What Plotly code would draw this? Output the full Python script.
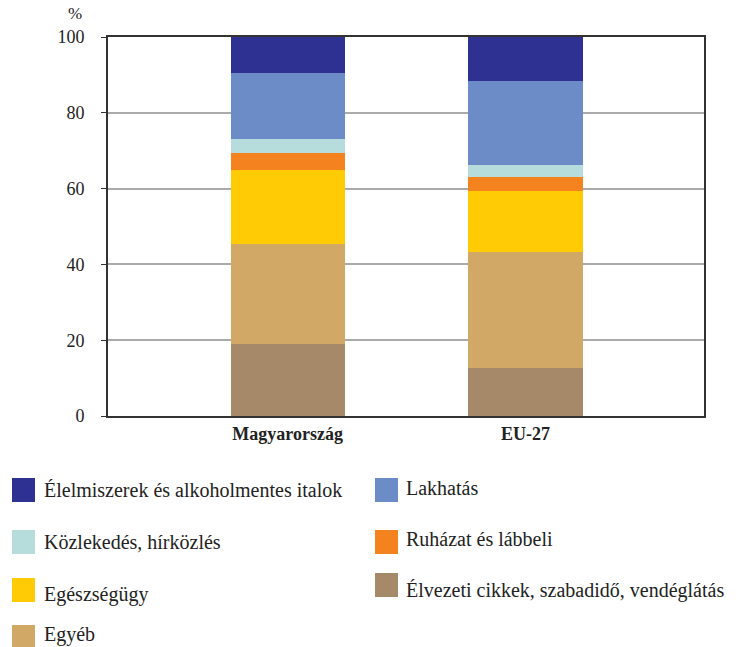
import plotly.graph_objects as go

categories = ["Magyarország", "EU-27"]
series_names = [
    "Élvezeti cikkek, szabadidő, vendéglátás",
    "Egyéb",
    "Egészségügy",
    "Ruházat és lábbeli",
    "Közlekedés, hírközlés",
    "Lakhatás",
    "Élelmiszerek és alkoholmentes italok",
]
elvezeti = [18.9, 12.7]
egyeb = [26.6, 30.5]
egeszseg = [19.5, 16.3]
ruhazat = [4.5, 3.5]
kozlekedes = [3.6, 3.3]
lakhatas = [17.4, 22.2]
elelmiszer = [9.5, 11.5]
series_values = [elvezeti, egyeb, egeszseg, ruhazat, kozlekedes, lakhatas, elelmiszer]
colors = ["#a68968", "#d2a866", "#fecb05", "#f4821f", "#b6dcdb", "#6b8cc7", "#2e3192"]
y_ticks = [0, 20, 40, 60, 80, 100]

FONT = "Liberation Serif, DejaVu Serif, serif"
W, H = 738, 647
L, R, T, B = 108, 704, 37, 416

fig = go.Figure()
for name, vals, col in zip(series_names, series_values, colors):
    fig.add_trace(go.Bar(x=categories, y=vals, name=name, marker_color=col,
                         marker_line_width=0, width=0.48, showlegend=False,
                         hoverinfo="skip"))

fig.update_layout(
    width=W, height=H, barmode="stack",
    margin=dict(l=L, r=W - R, t=T, b=H - B),
    plot_bgcolor="white", paper_bgcolor="white",
    font=dict(family=FONT, size=18, color="#222"),
    xaxis=dict(range=[-0.755, 1.75], showline=True, linecolor="#333", linewidth=2,
               mirror=True, ticks="", tickfont=dict(size=18, family=FONT),
               tickprefix="<b>", ticksuffix="</b>", fixedrange=True),
    yaxis=dict(range=[0, 100], tickvals=y_ticks, showline=True, linecolor="#333",
               linewidth=2, mirror=True, ticks="outside", ticklen=5, tickcolor="#333",
               gridcolor="#aaaaaa", gridwidth=2, ticklabelstandoff=13,
               tickfont=dict(size=18, family=FONT), zeroline=False, fixedrange=True),
)

def px(x):
    return (x - L) / (R - L)

def py(y):
    return (B - y) / (B - T)

fig.add_annotation(text="%", x=px(75), y=py(14), xref="paper", yref="paper",
                   xanchor="center", yanchor="middle",
                   showarrow=False, font=dict(size=17, family=FONT))

legend_items = [
    ("Élelmiszerek és alkoholmentes italok", "#2e3192", 12, 478, 42, 490),
    ("Lakhatás", "#6b8cc7", 375, 478, 404, 488),
    ("Közlekedés, hírközlés", "#b6dcdb", 12, 530, 42, 542),
    ("Ruházat és lábbeli", "#f4821f", 375, 530, 404, 539),
    ("Egészségügy", "#fecb05", 12, 578, 42, 594),
    ("Élvezeti cikkek, szabadidő, vendéglátás", "#a68968", 375, 573, 404, 590),
    ("Egyéb", "#d2a866", 12, 625, 42, 634),
]
for text, col, sx, sy, tx, ty in legend_items:
    fig.add_shape(type="rect", xref="paper", yref="paper",
                  x0=px(sx), x1=px(sx + 23), y0=py(sy), y1=py(sy + 24),
                  fillcolor=col, line=dict(width=0))
    fig.add_annotation(text=text, x=px(tx), y=py(ty), xref="paper", yref="paper",
                       xanchor="left", yanchor="middle", showarrow=False,
                       font=dict(size=20, family=FONT))

fig.write_html("out.html", config={"displayModeBar": False},
               post_script="document.body.style.margin='0';")
